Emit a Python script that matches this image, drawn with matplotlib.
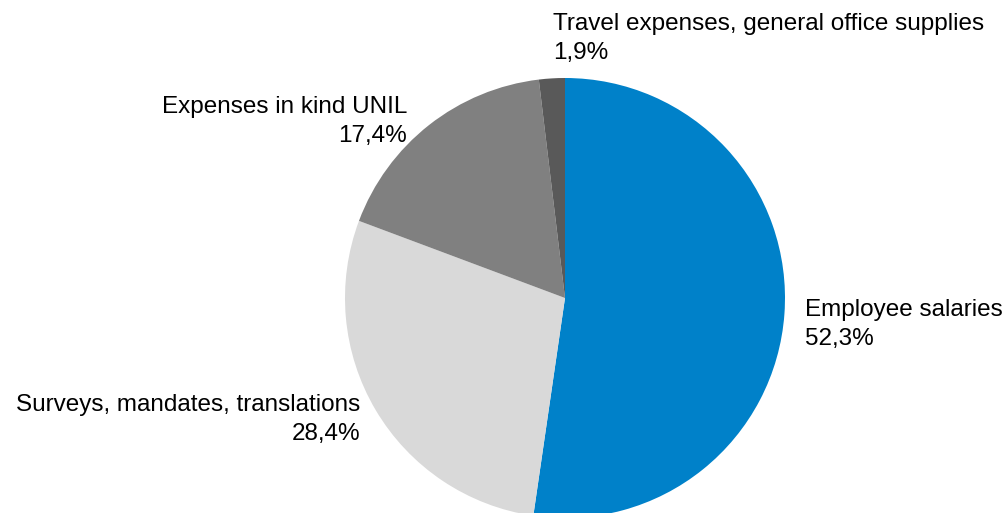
import matplotlib.pyplot as plt

plt.rcParams["font.family"] = ["Liberation Sans", "DejaVu Sans"]

# Budget breakdown
categories = [
    "Employee salaries",
    "Surveys, mandates, translations",
    "Expenses in kind UNIL",
    "Travel expenses, general office supplies",
]
shares = [52.3, 28.4, 17.4, 1.9]
colors = ["#0081C9", "#D9D9D9", "#808080", "#595959"]

W, H = 1006, 513
fig = plt.figure(figsize=(W / 100, H / 100), dpi=100)
ax = fig.add_axes([0, 0, 1, 1])

ax.pie(
    shares,
    colors=colors,
    startangle=90,
    counterclock=False,
    center=(565, H - 298),
    radius=220,
    wedgeprops={"linewidth": 0},
)
ax.set_xlim(0, W)
ax.set_ylim(0, H)
ax.set_aspect("equal")
ax.axis("off")

# label anchors in pixel space (x, y from top, alignment)
label_pos = [
    (805, 299, "left"),
    (360, 394, "right"),
    (407, 96, "right"),
    (553, 13, "left"),
]
for name, val, (x, y, ha) in zip(categories, shares, label_pos):
    txt = f"{name}\n{val:.1f}%".replace(".", ",")
    ax.text(x, H - y, txt, ha=ha, va="top", fontsize=17.5,
            linespacing=1.4, color="#000000", multialignment=ha)

fig.savefig("out.png", dpi=100)
